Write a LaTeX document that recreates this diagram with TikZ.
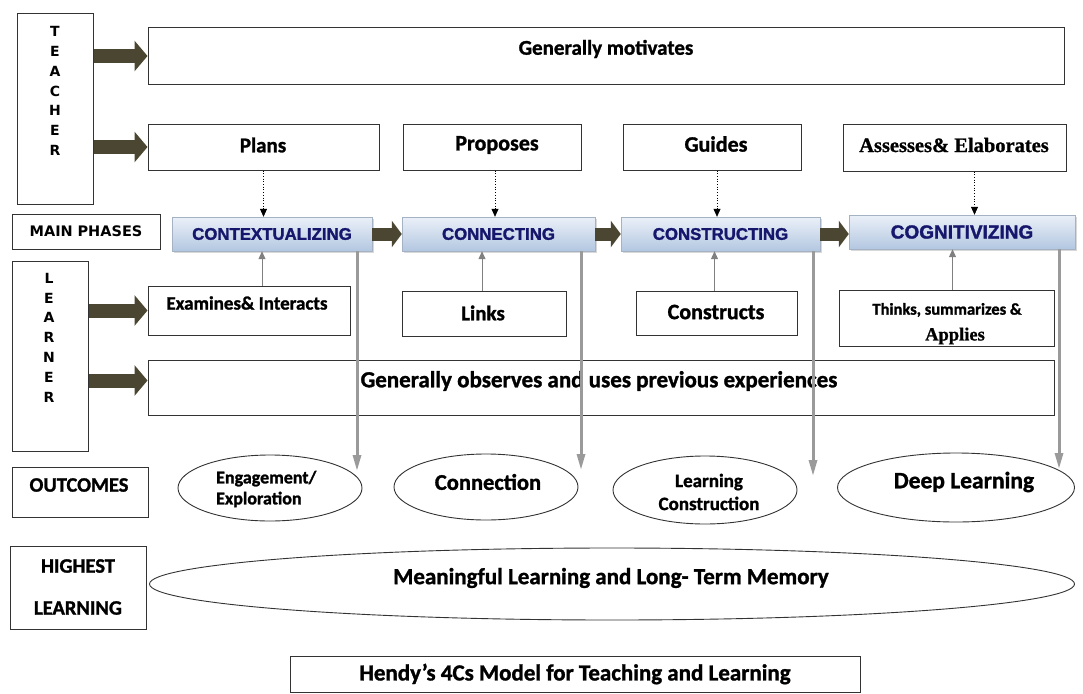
\documentclass[tikz,border=0pt]{standalone}
\usepackage{fontspec}
\setmainfont{Carlito}[BoldFeatures={FakeBold=1.3}]
\newfontfamily\lsans{Liberation Sans}[BoldFeatures={FakeBold=1.6}]
\newfontfamily\dvsans{DejaVu Sans}
\newfontfamily\lserif{Liberation Serif}[BoldFeatures={FakeBold=1}]
\usetikzlibrary{arrows.meta,shadows,shapes.geometric}
\definecolor{olivearr}{HTML}{4A4631}
\definecolor{phasetxt}{HTML}{16166C}
\definecolor{phasetop}{HTML}{EBF0F8}
\definecolor{phasebot}{HTML}{B3C7E1}
\definecolor{grayline}{HTML}{9A9A9A}
\definecolor{boxline}{HTML}{333333}
\newcommand{\myfs}[2]{\fontsize{#1}{#2}\selectfont}
\tikzset{
  box/.style={draw=boxline, line width=1pt, fill=white, inner sep=0pt},
  txt/.style={inner sep=0pt, font=\bfseries\myfs{21}{25}},
  phase/.style={top color=phasetop, bottom color=phasebot, draw=phasebot!70!gray, line width=0.4pt,
     drop shadow={shadow xshift=2pt, shadow yshift=-2pt, opacity=0.3}, inner sep=0pt,
     text=phasetxt, font=\lsans\bfseries},
  fatarr/.style={draw=olivearr, line width=14pt, -{Triangle[length=13pt,width=30pt]}},
  midarr/.style={draw=olivearr, line width=13pt, -{Triangle[length=10pt,width=26pt]}},
  dotarr/.style={draw=black, line width=0.7pt, dotted, -{Triangle[length=8pt,width=7pt,sep=0pt]}},
  uparr/.style={draw=gray, line width=1pt, -{Triangle[length=8pt,width=7pt]}},
  grayarr/.style={draw=grayline, line width=3pt, -{Triangle[length=16pt,width=8pt]}},
  oval/.style={ellipse, draw=boxline, line width=0.9pt, fill=white, inner sep=0pt},
  letters/.style={inner sep=0pt, align=center, font=\dvsans\bfseries\myfs{14}{19.8}},
}
\begin{document}
\begin{tikzpicture}[x=1pt,y=-1pt]
\useasboundingbox[fill=white] (0,0) rectangle (1083,693);

% ---------- TEACHER ----------
\node[box, minimum width=76, minimum height=190] (teacher) at (55,109) {};
\node[letters] (teacherT) at (55,91) {T\\E\\A\\C\\H\\E\\R};

\node[box, minimum width=916, minimum height=56] (motiv) at (606,56) {};
\node[txt] (motivT) at (606,49) {Generally motivates};

\node[box, minimum width=231, minimum height=46] (plans) at (263.5,147) {};
\node[txt] (plansT) at (263,145) {Plans};
\node[box, minimum width=178, minimum height=46] (proposes) at (492,147) {};
\node[txt, font=\bfseries\myfs{22}{25}] (proposesT) at (497,145) {Proposes};
\node[box, minimum width=178, minimum height=46] (guides) at (712,147) {};
\node[txt, font=\bfseries\myfs{22}{25}] (guidesT) at (716,144) {Guides};
\node[box, minimum width=223, minimum height=47] (assess) at (954.5,147.5) {};
\node[txt, font=\lserif\bfseries\myfs{20.5}{22}] (assessT) at (954,145) {Assesses\& Elaborates};

\draw[fatarr] (teacher.east |- motiv.west) -- (motiv.west);
\draw[fatarr] (teacher.east |- plans.west) -- (plans.west);

% ---------- MAIN PHASES ----------
\node[box, minimum width=148, minimum height=35, font=\dvsans\bfseries\myfs{14.5}{16}] (mainph) at (86,231.5) {MAIN\,\,PHASES};

\node[phase, minimum width=200, minimum height=34, font=\lsans\bfseries\myfs{16.8}{18}] (P1) at (272,234) {CONTEXTUALIZING};
\node[phase, minimum width=193, minimum height=34, font=\lsans\bfseries\myfs{16.8}{18}] (P2) at (498.5,234) {CONNECTING};
\node[phase, minimum width=199, minimum height=34, font=\lsans\bfseries\myfs{16.8}{18}] (P3) at (720.5,234) {CONSTRUCTING};
\node[phase, minimum width=226, minimum height=34, font=\lsans\bfseries\myfs{19}{20}] (P4) at (962,232) {COGNITIVIZING};

\draw[midarr] (P1.east) -- (P2.west);
\draw[midarr] (P2.east) -- (P3.west);
\draw[midarr] (P3.east) -- (P3.east -| P4.west);

\draw[dotarr] (plans.south) -- (plans.south |- P1.north);
\draw[dotarr] ([xshift=3pt]proposes.south) -- ([xshift=3pt]proposes.south |- P2.north);
\draw[dotarr] ([xshift=5pt]guides.south) -- ([xshift=5pt]guides.south |- P3.north);
\draw[dotarr] ([xshift=20pt]assess.south) -- ([xshift=20pt]assess.south |- P4.north);

% ---------- LEARNER ----------
\node[box, minimum width=76, minimum height=190] (learner) at (50,356) {};
\node[letters] (learnerT) at (49,337.5) {L\\E\\A\\R\\N\\E\\R};

\node[box, minimum width=202, minimum height=49] (examines) at (249,310.5) {};
\node[txt, font=\bfseries\myfs{19}{20}] (examinesT) at (247,303) {Examines\& Interacts};
\node[box, minimum width=164, minimum height=45] (links) at (484,313.5) {};
\node[txt] (linksT) at (483,313) {Links};
\node[box, minimum width=161, minimum height=44] (constructs) at (716.5,313) {};
\node[txt, font=\bfseries\myfs{22}{25}] (constructsT) at (716,312) {Constructs};
\node[box, minimum width=215, minimum height=56] (thinks) at (946.5,318) {};
\node[txt, font=\bfseries\myfs{16.5}{17}] (thinksT) at (947,310) {Thinks, summarizes \&};
\node[txt, font=\lserif\bfseries\myfs{18.5}{20}] (appliesT) at (955,336) {Applies};

\node[box, minimum width=906, minimum height=55] (observes) at (601,387.5) {};
\node[txt, font=\bfseries\myfs{23}{25}] (observesT) at (599,381) {Generally observes and uses previous experiences};
\coordinate (obsin) at ([yshift=7pt]observes.west);

\draw[fatarr] (learner.east |- examines.west) -- (examines.west);
\draw[fatarr] (learner.east |- obsin) -- (obsin);

\draw[uparr] ([xshift=13pt]examines.north) -- ([xshift=13pt]examines.north |- P1.south);
\draw[uparr] ([xshift=-2pt]links.north) -- ([xshift=-2pt]links.north |- P2.south);
\draw[uparr] ([xshift=-2pt]constructs.north) -- ([xshift=-2pt]constructs.north |- P3.south);
\draw[uparr] ([xshift=6pt]thinks.north) -- ([xshift=6pt]thinks.north |- P4.south);

% ---------- OUTCOMES ----------
\node[box, minimum width=136, minimum height=50] (outcomes) at (80,492) {};
\node[txt, font=\bfseries\myfs{20.5}{22}] (outcomesT) at (79,485) {OUTCOMES};

\node[oval, minimum width=184, minimum height=66] (E1) at (270,488) {};
\node[txt, font=\bfseries\myfs{18}{21}, align=left, anchor=west] (E1T) at (216,489) {Engagement/\\Exploration};
\node[oval, minimum width=184, minimum height=66] (E2) at (486,487) {};
\node[txt, font=\bfseries\myfs{22.5}{25}] (E2T) at (488,482) {Connection};
\node[oval, minimum width=184, minimum height=68] (E3) at (705,490) {};
\node[txt, font=\bfseries\myfs{19}{23}, align=center] (E3T) at (709,492) {Learning\\Construction};
\node[oval, minimum width=237, minimum height=69] (E4) at (956,487.5) {};
\node[txt, font=\bfseries\myfs{23.5}{25}] (E4T) at (964,482) {Deep Learning};

\coordinate (g1e) at (357,471);
\coordinate (g2e) at (581,470);
\coordinate (g3e) at (813,476);
\coordinate (g4e) at (1059,469);
\draw[grayarr] (P1.south -| g1e) -- (g1e);
\draw[grayarr] (P2.south -| g2e) -- (g2e);
\draw[grayarr] (P3.south -| g3e) -- (g3e);
\draw[grayarr] (P4.south -| g4e) -- (g4e);

% ---------- HIGHEST LEARNING ----------
\node[box, minimum width=136, minimum height=83] (highest) at (78,587.5) {};
\node[txt, font=\bfseries\myfs{20.5}{22}] (highestT) at (78,566) {HIGHEST};
\node[txt, font=\bfseries\myfs{20.5}{22}] (learningT) at (78,608) {LEARNING};

\node[oval, minimum width=925, minimum height=72] (meaning) at (612,584) {};
\node[txt, font=\bfseries\myfs{23}{25}] (meaningT) at (611,578) {Meaningful Learning and Long- Term Memory};

% ---------- TITLE ----------
\node[box, minimum width=570, minimum height=36, font=\bfseries\myfs{23}{25}] (title) at (575,674) {Hendy’s 4Cs Model for Teaching and Learning};
\end{tikzpicture}
\end{document}
